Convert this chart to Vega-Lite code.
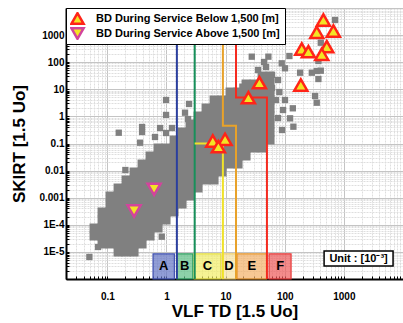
{
"$schema": "https://vega.github.io/schema/vega-lite/v6.json",
"width": 337, "height": 271,
"autosize": {"type": "none"},
"padding": {"left": 66, "top": 8, "right": 0, "bottom": 44},
"background": "white",
"config": {"view": {"stroke": "#000", "strokeWidth": 1}, "font": "Liberation Sans"},
"datasets": {
"core": [
{"x":0.0596,"y":7.62e-5},{"x":0.0596,"y":3.86e-5},
{"x":0.0814,"y":2.97e-4},{"x":0.0814,"y":1.5e-4},{"x":0.0814,"y":7.62e-5},{"x":0.0814,"y":3.86e-5},{"x":0.0814,"y":1.96e-5},
{"x":0.1112,"y":1.155e-3},{"x":0.1112,"y":5.85e-4},{"x":0.1112,"y":2.97e-4},{"x":0.1112,"y":1.5e-4},{"x":0.1112,"y":7.62e-5},{"x":0.1112,"y":3.86e-5},{"x":0.1112,"y":1.96e-5},
{"x":0.1519,"y":2.28e-3},{"x":0.1519,"y":1.155e-3},{"x":0.1519,"y":5.85e-4},{"x":0.1519,"y":2.97e-4},{"x":0.1519,"y":1.5e-4},{"x":0.1519,"y":7.62e-5},{"x":0.1519,"y":3.86e-5},{"x":0.1519,"y":1.96e-5},{"x":0.1519,"y":9.9e-6},
{"x":0.2074,"y":4.5e-3},{"x":0.2074,"y":2.28e-3},{"x":0.2074,"y":1.155e-3},{"x":0.2074,"y":5.85e-4},{"x":0.2074,"y":2.97e-4},{"x":0.2074,"y":1.5e-4},{"x":0.2074,"y":7.62e-5},{"x":0.2074,"y":3.86e-5},{"x":0.2074,"y":1.96e-5},{"x":0.2074,"y":9.9e-6},
{"x":0.2833,"y":8.88e-3},{"x":0.2833,"y":4.5e-3},{"x":0.2833,"y":2.28e-3},{"x":0.2833,"y":1.155e-3},{"x":0.2833,"y":5.85e-4},{"x":0.2833,"y":2.97e-4},{"x":0.2833,"y":1.5e-4},{"x":0.2833,"y":7.62e-5},{"x":0.2833,"y":3.86e-5},{"x":0.2833,"y":1.96e-5},{"x":0.2833,"y":9.9e-6},
{"x":0.3867,"y":0.0175},{"x":0.3867,"y":8.88e-3},{"x":0.3867,"y":4.5e-3},{"x":0.3867,"y":2.28e-3},{"x":0.3867,"y":1.155e-3},{"x":0.3867,"y":5.85e-4},{"x":0.3867,"y":2.97e-4},{"x":0.3867,"y":1.5e-4},{"x":0.3867,"y":7.62e-5},{"x":0.3867,"y":3.86e-5},{"x":0.3867,"y":1.96e-5},
{"x":0.528,"y":0.0346},{"x":0.528,"y":0.0175},{"x":0.528,"y":8.88e-3},{"x":0.528,"y":4.5e-3},{"x":0.528,"y":2.28e-3},{"x":0.528,"y":1.155e-3},{"x":0.528,"y":5.85e-4},{"x":0.528,"y":2.97e-4},{"x":0.528,"y":1.5e-4},{"x":0.528,"y":7.62e-5},{"x":0.528,"y":3.86e-5},
{"x":0.7211,"y":0.0682},{"x":0.7211,"y":0.0346},{"x":0.7211,"y":0.0175},{"x":0.7211,"y":8.88e-3},{"x":0.7211,"y":4.5e-3},{"x":0.7211,"y":2.28e-3},{"x":0.7211,"y":1.155e-3},{"x":0.7211,"y":5.85e-4},{"x":0.7211,"y":2.97e-4},{"x":0.7211,"y":1.5e-4},{"x":0.7211,"y":7.62e-5},
{"x":0.9845,"y":0.0682},{"x":0.9845,"y":0.0346},{"x":0.9845,"y":0.0175},{"x":0.9845,"y":8.88e-3},{"x":0.9845,"y":4.5e-3},{"x":0.9845,"y":2.28e-3},{"x":0.9845,"y":1.155e-3},{"x":0.9845,"y":5.85e-4},{"x":0.9845,"y":2.97e-4},{"x":0.9845,"y":1.5e-4},
{"x":1.344,"y":0.1346},{"x":1.344,"y":0.0682},{"x":1.344,"y":0.0346},{"x":1.344,"y":0.0175},{"x":1.344,"y":8.88e-3},{"x":1.344,"y":4.5e-3},{"x":1.344,"y":2.28e-3},{"x":1.344,"y":1.155e-3},{"x":1.344,"y":5.85e-4},{"x":1.344,"y":2.97e-4},
{"x":1.836,"y":0.2657},{"x":1.836,"y":0.1346},{"x":1.836,"y":0.0682},{"x":1.836,"y":0.0346},{"x":1.836,"y":0.0175},{"x":1.836,"y":8.88e-3},{"x":1.836,"y":4.5e-3},{"x":1.836,"y":2.28e-3},{"x":1.836,"y":1.155e-3},{"x":1.836,"y":5.85e-4},
{"x":2.506,"y":0.524},{"x":2.506,"y":0.2657},{"x":2.506,"y":0.1346},{"x":2.506,"y":0.0682},{"x":2.506,"y":0.0346},{"x":2.506,"y":0.0175},{"x":2.506,"y":8.88e-3},{"x":2.506,"y":4.5e-3},{"x":2.506,"y":2.28e-3},{"x":2.506,"y":1.155e-3},
{"x":3.422,"y":1.035},{"x":3.422,"y":0.524},{"x":3.422,"y":0.2657},{"x":3.422,"y":0.1346},{"x":3.422,"y":0.0682},{"x":3.422,"y":0.0346},{"x":3.422,"y":0.0175},{"x":3.422,"y":8.88e-3},{"x":3.422,"y":4.5e-3},{"x":3.422,"y":2.28e-3},
{"x":4.673,"y":2.04},{"x":4.673,"y":1.035},{"x":4.673,"y":0.524},{"x":4.673,"y":0.2657},{"x":4.673,"y":0.1346},{"x":4.673,"y":0.0682},{"x":4.673,"y":0.0346},{"x":4.673,"y":0.0175},{"x":4.673,"y":8.88e-3},{"x":4.673,"y":4.5e-3},
{"x":6.383,"y":4.03},{"x":6.383,"y":2.04},{"x":6.383,"y":1.035},{"x":6.383,"y":0.524},{"x":6.383,"y":0.2657},{"x":6.383,"y":0.1346},{"x":6.383,"y":0.0682},{"x":6.383,"y":0.0346},{"x":6.383,"y":0.0175},{"x":6.383,"y":8.88e-3},{"x":6.383,"y":4.5e-3},
{"x":8.716,"y":4.03},{"x":8.716,"y":2.04},{"x":8.716,"y":1.035},{"x":8.716,"y":0.524},{"x":8.716,"y":0.2657},{"x":8.716,"y":0.1346},{"x":8.716,"y":0.0682},{"x":8.716,"y":0.0346},{"x":8.716,"y":0.0175},{"x":8.716,"y":8.88e-3},
{"x":11.9,"y":7.95},{"x":11.9,"y":4.03},{"x":11.9,"y":2.04},{"x":11.9,"y":1.035},{"x":11.9,"y":0.524},{"x":11.9,"y":0.2657},{"x":11.9,"y":0.1346},{"x":11.9,"y":0.0682},{"x":11.9,"y":0.0346},{"x":11.9,"y":0.0175},
{"x":16.25,"y":7.95},{"x":16.25,"y":4.03},{"x":16.25,"y":2.04},{"x":16.25,"y":1.035},{"x":16.25,"y":0.524},{"x":16.25,"y":0.2657},{"x":16.25,"y":0.1346},{"x":16.25,"y":0.0682},{"x":16.25,"y":0.0346},{"x":16.25,"y":0.0175},
{"x":22.19,"y":15.7},{"x":22.19,"y":7.95},{"x":22.19,"y":4.03},{"x":22.19,"y":2.04},{"x":22.19,"y":1.035},{"x":22.19,"y":0.524},{"x":22.19,"y":0.2657},{"x":22.19,"y":0.1346},{"x":22.19,"y":0.0682},{"x":22.19,"y":0.0346},
{"x":30.3,"y":15.7},{"x":30.3,"y":7.95},{"x":30.3,"y":4.03},{"x":30.3,"y":2.04},{"x":30.3,"y":1.035},{"x":30.3,"y":0.524},{"x":30.3,"y":0.2657},{"x":30.3,"y":0.1346},{"x":30.3,"y":0.0682},
{"x":41.38,"y":30.9},{"x":41.38,"y":15.7},{"x":41.38,"y":7.95},{"x":41.38,"y":4.03},{"x":41.38,"y":2.04},{"x":41.38,"y":1.035},{"x":41.38,"y":0.524},{"x":41.38,"y":0.2657},{"x":41.38,"y":0.1346},{"x":41.38,"y":0.0682},
{"x":56.5,"y":30.9},{"x":56.5,"y":15.7},{"x":56.5,"y":7.95},{"x":56.5,"y":4.03},{"x":56.5,"y":2.04},{"x":56.5,"y":1.035},{"x":56.5,"y":0.524},{"x":56.5,"y":0.2657},{"x":56.5,"y":0.1346}
],
"scatter": [
{"x":0.985,"y":4.03},{"x":0.985,"y":1.13},{"x":0.387,"y":0.407},{"x":0.387,"y":0.266},{"x":0.156,"y":0.25},{"x":0.358,"y":0.107},{"x":0.985,"y":0.244},{"x":0.2018,"y":0.0105},{"x":2.06,"y":1.37},{"x":2.41,"y":2.87},{"x":2.32,"y":0.8},{"x":0.78,"y":0.373},{"x":0.64,"y":0.174},{"x":1.24,"y":0.373},
{"x":0.0497,"y":6.5e-6},{"x":0.833,"y":3.64e-5},{"x":0.0697,"y":1.52e-5},{"x":0.0596,"y":5.42e-5},
{"x":710,"y":3606},{"x":407,"y":524},{"x":371,"y":111},{"x":287,"y":41},{"x":348,"y":47.4},{"x":407,"y":48.6},{"x":371,"y":24},{"x":182,"y":41},{"x":120,"y":169},{"x":89,"y":91},{"x":101,"y":59.6},{"x":326,"y":5.66},{"x":348,"y":3.2},{"x":137,"y":1.99},{"x":123,"y":0.85},{"x":140,"y":0.417},{"x":52.9,"y":160},{"x":27.7,"y":160},{"x":19.2,"y":12.5},{"x":7.55,"y":4.28},{"x":5.46,"y":1.99},{"x":3.7,"y":0.737},
{"x":61,"y":33.7},{"x":77,"y":22},{"x":61,"y":11.2},{"x":81,"y":7.95},{"x":71,"y":4.03},{"x":101,"y":4.03},{"x":56.5,"y":2.04},{"x":93.7,"y":1.72},{"x":77,"y":0.87},{"x":90,"y":0.315},{"x":44.7,"y":102},{"x":35.4,"y":51.5},{"x":48.3,"y":66.5}
],
"tri": [
{"s":"BD During Service Below 1,500 [m]","x":450,"y":3606},
{"s":"BD During Service Below 1,500 [m]","x":348,"y":1268},
{"s":"BD During Service Below 1,500 [m]","x":665,"y":1416},
{"s":"BD During Service Below 1,500 [m]","x":194,"y":307},
{"s":"BD During Service Below 1,500 [m]","x":251,"y":244},
{"s":"BD During Service Below 1,500 [m]","x":514,"y":373},
{"s":"BD During Service Below 1,500 [m]","x":423,"y":196},
{"s":"BD During Service Below 1,500 [m]","x":187,"y":14.4},
{"s":"BD During Service Below 1,500 [m]","x":37.3,"y":17.5},
{"s":"BD During Service Below 1,500 [m]","x":24.3,"y":4.9},
{"s":"BD During Service Below 1,500 [m]","x":6.07,"y":0.1237},
{"s":"BD During Service Below 1,500 [m]","x":9.8,"y":0.143},
{"s":"BD During Service Below 1,500 [m]","x":7.55,"y":0.0762},
{"s":"BD During Service Above 1,500 [m]","x":0.617,"y":0.00204},
{"s":"BD During Service Above 1,500 [m]","x":0.283,"y":0.000323}
],
"lines": [
{"g":"blue","o":1,"x":1.5,"y":10000},{"g":"blue","o":2,"x":1.5,"y":1e-6},
{"g":"green","o":1,"x":3,"y":10000},{"g":"green","o":2,"x":3,"y":1e-6},
{"g":"yellow","o":1,"x":3,"y":0.1},{"g":"yellow","o":2,"x":9,"y":0.1},{"g":"yellow","o":3,"x":9,"y":1e-6},
{"g":"orange","o":1,"x":9,"y":10000},{"g":"orange","o":2,"x":9,"y":0.45},{"g":"orange","o":3,"x":15,"y":0.45},{"g":"orange","o":4,"x":15,"y":1e-6},
{"g":"red","o":1,"x":15,"y":10000},{"g":"red","o":2,"x":15,"y":5},{"g":"red","o":3,"x":50,"y":5},{"g":"red","o":4,"x":50,"y":1e-6}
],
"bands": [
{"b":"A","x1":0.593,"x2":1.36,"xm":0.9,"y1":1e-6,"y2":8.4e-6,"ym":2.9e-6},
{"b":"B","x1":1.494,"x2":2.785,"xm":2.04,"y1":1e-6,"y2":8.4e-6,"ym":2.9e-6},
{"b":"C","x1":2.93,"x2":8.28,"xm":4.93,"y1":1e-6,"y2":8.4e-6,"ym":2.9e-6},
{"b":"D","x1":8.71,"x2":14.86,"xm":11.4,"y1":1e-6,"y2":8.4e-6,"ym":2.9e-6},
{"b":"E","x1":15.63,"x2":49.7,"xm":27.9,"y1":1e-6,"y2":8.4e-6,"ym":2.9e-6},
{"b":"F","x1":54.3,"x2":128,"xm":83.5,"y1":1e-6,"y2":8.4e-6,"ym":2.9e-6}
],
"unit": [{"t":"Unit : [10⁻³]","x1":463,"x2":6790,"y1":1.08e-5,"y2":3.0e-6,"xm":1774,"ym":5.7e-6}]
},
"resolve": {"scale": {"color": "independent", "fill": "independent", "stroke": "independent", "shape": "independent"}},
"layer": [
{
"data": {"name": "core"},
"mark": {"type": "point", "shape": "square", "filled": true, "size": 81, "color": "#808080", "opacity": 1},
"encoding": {
"x": {"field": "x", "type": "quantitative", "scale": {"type": "log", "domain": [0.02, 10000], "nice": false},
 "axis": {"title": "VLF TD [1.5 Uo]",
  "values": [0.02,0.03,0.04,0.05,0.06,0.07,0.08,0.09,0.1,0.2,0.3,0.4,0.5,0.6,0.7,0.8,0.9,1,2,3,4,5,6,7,8,9,10,20,30,40,50,60,70,80,90,100,200,300,400,500,600,700,800,900,1000,2000,3000,4000,5000,6000,7000,8000,9000,10000],
  "labelExpr": "indexof([0.1,1,10,100,1000], datum.value) >= 0 ? format(datum.value, '~g') : ''",
  "labelOverlap": false, "labelFlush": false,
  "labelFont": "Liberation Sans", "labelFontSize": 10, "labelFontWeight": "bold", "labelColor": "#000", "labelPadding": 15,
  "tickColor": "#000", "tickSize": -3, "tickWidth": 1,
  "domainColor": "#000", "domainWidth": 2,
  "grid": true,
  "gridColor": {"condition": {"test": "indexof([0.1,1,10,100,1000,10000], datum.value) >= 0", "value": "#c4c4c4"}, "value": "#dedede"},
  "gridDash": {"condition": {"test": "indexof([0.1,1,10,100,1000,10000], datum.value) >= 0", "value": []}, "value": [2, 1]},
  "titleFont": "Liberation Sans", "titleFontSize": 17, "titleFontWeight": "bold", "titleColor": "#000", "titlePadding": 2}},
"y": {"field": "y", "type": "quantitative", "scale": {"type": "log", "domain": [1e-6, 10000], "nice": false},
 "axis": {"title": "SKIRT [1.5 Uo]",
  "values": [1e-6,2e-6,3e-6,4e-6,5e-6,6e-6,7e-6,8e-6,9e-6,1e-5,2e-5,3e-5,4e-5,5e-5,6e-5,7e-5,8e-5,9e-5,1e-4,2e-4,3e-4,4e-4,5e-4,6e-4,7e-4,8e-4,9e-4,0.001,0.002,0.003,0.004,0.005,0.006,0.007,0.008,0.009,0.01,0.02,0.03,0.04,0.05,0.06,0.07,0.08,0.09,0.1,0.2,0.3,0.4,0.5,0.6,0.7,0.8,0.9,1,2,3,4,5,6,7,8,9,10,20,30,40,50,60,70,80,90,100,200,300,400,500,600,700,800,900,1000,2000,3000,4000,5000,6000,7000,8000,9000,10000],
  "labelExpr": "indexof([0.00001,0.0001,0.001,0.01,0.1,1,10,100,1000], datum.value) >= 0 ? (datum.value < 0.0005 ? replace(format(datum.value, '.0e'), 'e', 'E') : format(datum.value, '~g')) : ''",
  "labelOverlap": false, "labelFlush": false,
  "labelFont": "Liberation Sans", "labelFontSize": 10, "labelFontWeight": "bold", "labelColor": "#000", "labelPadding": 5,
  "tickColor": "#000", "tickSize": -3, "tickWidth": 1,
  "domainColor": "#000", "domainWidth": 2,
  "grid": true,
  "gridColor": {"condition": {"test": "indexof([0.000001,0.00001,0.0001,0.001,0.01,0.1,1,10,100,1000,10000], datum.value) >= 0", "value": "#c4c4c4"}, "value": "#dedede"},
  "gridDash": {"condition": {"test": "indexof([0.000001,0.00001,0.0001,0.001,0.01,0.1,1,10,100,1000,10000], datum.value) >= 0", "value": []}, "value": [2, 1]},
  "titleFont": "Liberation Sans", "titleFontSize": 17, "titleFontWeight": "bold", "titleColor": "#000", "titlePadding": 10}}
}
},
{
"data": {"name": "scatter"},
"mark": {"type": "point", "shape": "square", "filled": true, "size": 40, "color": "#808080", "opacity": 1},
"encoding": {"x": {"field": "x", "type": "quantitative"}, "y": {"field": "y", "type": "quantitative"}}
},
{
"data": {"name": "bands"},
"mark": {"type": "rect", "fillOpacity": 0.7, "strokeWidth": 1.2},
"encoding": {
"x": {"field": "x1", "type": "quantitative"}, "x2": {"field": "x2"},
"y": {"field": "y1", "type": "quantitative"}, "y2": {"field": "y2"},
"fill": {"field": "b", "type": "nominal", "legend": null, "scale": {"domain": ["A","B","C","D","E","F"], "range": ["#6374c4","#5cbf85","#f2ee66","#f7e3a0","#f4b066","#ee5a5a"]}},
"stroke": {"field": "b", "type": "nominal", "legend": null, "scale": {"domain": ["A","B","C","D","E","F"], "range": ["#3f50b0","#2f9e60","#e6e040","#f0cf70","#e8962c","#e83a3a"]}}
}
},
{
"data": {"name": "lines"},
"mark": {"type": "line", "strokeWidth": 2},
"encoding": {
"x": {"field": "x", "type": "quantitative"}, "y": {"field": "y", "type": "quantitative"},
"order": {"field": "o"},
"color": {"field": "g", "type": "nominal", "legend": null, "scale": {"domain": ["blue","green","yellow","orange","red"], "range": ["#2b3f9e","#17905a","#f0e22a","#e8a22a","#f52a1f"]}}
}
},
{
"data": {"name": "bands"},
"mark": {"type": "text", "fontSize": 13, "fontWeight": "bold", "font": "Liberation Sans", "color": "#000"},
"encoding": {"x": {"field": "xm", "type": "quantitative"}, "y": {"field": "ym", "type": "quantitative"}, "text": {"field": "b"}}
},
{
"data": {"name": "unit"},
"mark": {"type": "rect", "fill": "white", "stroke": "#000", "strokeWidth": 1.5},
"encoding": {"x": {"field": "x1", "type": "quantitative"}, "x2": {"field": "x2"}, "y": {"field": "y1", "type": "quantitative"}, "y2": {"field": "y2"}}
},
{
"data": {"name": "unit"},
"mark": {"type": "text", "fontSize": 11, "fontWeight": "bold", "font": "Liberation Sans", "color": "#000"},
"encoding": {"x": {"field": "xm", "type": "quantitative"}, "y": {"field": "ym", "type": "quantitative"}, "text": {"field": "t"}}
},
{
"data": {"name": "tri"},
"mark": {"type": "point", "filled": false, "fill": "#f3e424", "fillOpacity": 1, "strokeWidth": 2.5, "size": 170, "opacity": 1},
"encoding": {
"x": {"field": "x", "type": "quantitative"}, "y": {"field": "y", "type": "quantitative"},
"shape": {"field": "s", "type": "nominal", "scale": {"domain": ["BD During Service Below 1,500 [m]","BD During Service Above 1,500 [m]"], "range": ["triangle-up","triangle-down"]},
 "legend": {"title": null, "orient": "top-left", "offset": 0, "fillColor": "white", "strokeColor": "#000", "padding": 4, "symbolSize": 150, "symbolStrokeWidth": 2.5, "symbolFillColor": "#f3e424", "labelFont": "Liberation Sans", "labelFontSize": 11, "labelFontWeight": "bold", "labelColor": "#000", "labelOffset": 11, "rowPadding": 2, "clipHeight": 13, "labelLimit": 300}},
"stroke": {"field": "s", "type": "nominal", "scale": {"domain": ["BD During Service Below 1,500 [m]","BD During Service Above 1,500 [m]"], "range": ["#ff2418","#d2449c"]},
 "legend": {"title": null, "orient": "top-left", "offset": 0, "fillColor": "white", "strokeColor": "#000", "padding": 4, "symbolSize": 150, "symbolStrokeWidth": 2.5, "symbolFillColor": "#f3e424", "labelFont": "Liberation Sans", "labelFontSize": 11, "labelFontWeight": "bold", "labelColor": "#000", "labelOffset": 11, "rowPadding": 2, "clipHeight": 13, "labelLimit": 300}}
}
}
]
}
